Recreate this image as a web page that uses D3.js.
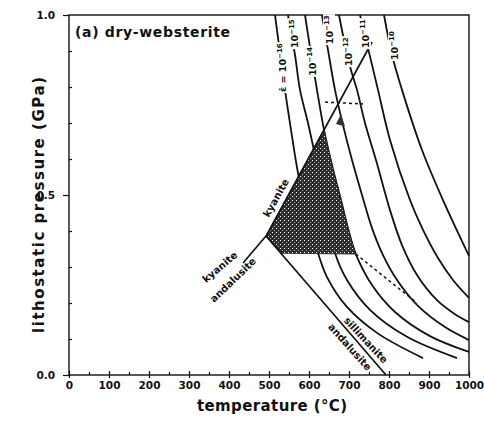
<!DOCTYPE html>
<html><head><meta charset="utf-8">
<script src="https://cdn.jsdelivr.net/npm/d3@7"></script>
<style>body{margin:0;background:#fff}</style>
</head><body>
<svg id="c" width="484" height="425"></svg>
<script>
// ---------- data ----------
const xTicks = [0,100,200,300,400,500,600,700,800,900,1000];
const xMinor = [50,150,250,350,450,550,650,750,850,950];
const yTicks = [0.0,0.5,1.0];
const yMinor = [0.1,0.2,0.3,0.4,0.6,0.7,0.8,0.9];
const strainExp = ["-16","-15","-14","-13","-12","-11","-10"];
// iso-strain-rate curves: [temperature °C, pressure GPa]
const curve16 = [[515,1.0],[540,0.792],[555,0.681],[572.5,0.561],[595,0.444],[622.5,0.339],[645,0.272],[695,0.189],[770,0.117],[885,0.047]];
const curve15 = [[547.5,1.0],[565,0.889],[577.5,0.792],[597.5,0.7],[617.5,0.597],[640,0.472],[665,0.339],[695,0.264],[752.5,0.181],[845,0.106],[970,0.047]];
const curve14 = [[590,1.0],[602.5,0.911],[620,0.792],[637.5,0.681],[657.5,0.583],[680,0.486],[700,0.397],[717,0.336],[757.5,0.25],[815,0.175],[902.5,0.108],[1000,0.064]];
const curve13 = [[632.5,1.0],[647.5,0.903],[665,0.792],[685,0.694],[707.5,0.597],[732.5,0.5],[757.5,0.408],[785,0.333],[820,0.264],[872.5,0.192],[940,0.133],[1000,0.097]];
const curve12 = [[675,1.0],[690,0.917],[705,0.847],[720,0.792],[740,0.7],[767.5,0.597],[802.5,0.458],[832.5,0.361],[870,0.278],[920,0.208],[965,0.169],[1000,0.147]];
const curve11 = [[727.5,1.0],[747.5,0.908],[772.5,0.792],[802.5,0.653],[852.5,0.486],[885,0.403],[922.5,0.325],[960,0.264],[1000,0.214]];
const curve10 = [[787.5,1.0],[807.5,0.889],[832.5,0.792],[882.5,0.625],[935,0.486],[1000,0.331]];
const curves = [curve16,curve15,curve14,curve13,curve12,curve11,curve10];
// Al2SiO5 phase boundaries
const kySil  = [[492.5,0.386],[757.5,0.925]];
const kyAnd  = [[492.5,0.386],[435,0.311]];
const andSil = [[492.5,0.386],[792.5,0.0]];
// shaded field
const shaded = [[637.5,0.681],[657.5,0.583],[680,0.486],[700,0.397],[717,0.336],[530,0.338],[492.5,0.386]];
const dashLow  = [[717,0.336],[870,0.2]];
const dashHigh = [[640,0.758],[735,0.753]];
const smallPatch = [[667.5,0.697],[680,0.725],[690,0.69]];

// ---------- layout ----------
const svg = d3.select("#c");
const FONT = "'DejaVu Sans', sans-serif";
const ink = "#111";
const x = d3.scaleLinear().domain([0,1000]).range([69,469]);
const y = d3.scaleLinear().domain([0,1]).range([375,15]);

const defs = svg.append("defs");
const pat = defs.append("pattern").attr("id","stip").attr("patternUnits","userSpaceOnUse")
  .attr("width",4).attr("height",4);
pat.append("rect").attr("width",4).attr("height",4).attr("fill","#2e2e2e");
pat.append("rect").attr("x",0).attr("y",0).attr("width",1).attr("height",1).attr("fill","#fff");
pat.append("rect").attr("x",2).attr("y",2).attr("width",1).attr("height",1).attr("fill","#aaa");

const line = d3.line().x(d=>x(d[0])).y(d=>y(d[1]));
const smooth = d3.line().x(d=>x(d[0])).y(d=>y(d[1])).curve(d3.curveCatmullRom.alpha(0.5));

// curves
svg.append("g").selectAll("path").data(curves).join("path")
  .attr("d", smooth).attr("fill","none").attr("stroke",ink).attr("stroke-width",1.8);

// shaded field
svg.append("path").attr("d", line(shaded)+"Z").attr("fill","url(#stip)").attr("stroke","#222").attr("stroke-width",0.8);
svg.append("path").attr("d", line(smallPatch)+"Z").attr("fill","#333");

// phase boundaries
[kySil,kyAnd,andSil].forEach(seg=>{
  svg.append("path").attr("d", line(seg)).attr("fill","none").attr("stroke",ink).attr("stroke-width",1.7);
});
[dashLow,dashHigh].forEach(seg=>{
  svg.append("path").attr("d", line(seg)).attr("fill","none").attr("stroke",ink)
    .attr("stroke-width",1.5).attr("stroke-dasharray","3,3");
});

// frame
svg.append("rect").attr("x",x(0)).attr("y",y(1)).attr("width",x(1000)-x(0)).attr("height",y(0)-y(1))
  .attr("fill","none").attr("stroke",ink).attr("stroke-width",1.4);

// axes
const gx = svg.append("g").attr("transform",`translate(0,${y(0)})`);
gx.call(d3.axisBottom(x).tickValues(xTicks).tickSize(3).tickPadding(4).tickFormat(d3.format("d")));
const gx2 = svg.append("g").attr("transform",`translate(0,${y(0)})`);
gx2.call(d3.axisBottom(x).tickValues(xTicks).tickSize(-4).tickFormat(""));
const gx3 = svg.append("g").attr("transform",`translate(0,${y(0)})`);
gx3.call(d3.axisBottom(x).tickValues(xMinor).tickSize(-3).tickFormat(""));
const gy = svg.append("g").attr("transform",`translate(${x(0)},0)`);
gy.call(d3.axisLeft(y).tickValues(yTicks).tickSize(6).tickPadding(8).tickFormat(d3.format(".1f")));
const gy2 = svg.append("g").attr("transform",`translate(${x(0)},0)`);
gy2.call(d3.axisLeft(y).tickValues(yMinor).tickSize(-3).tickFormat(""));
svg.selectAll(".domain").remove();
svg.selectAll(".tick line").attr("stroke",ink).attr("stroke-width",1.2);
svg.selectAll(".tick text").attr("font-family",FONT).attr("font-weight","bold")
  .attr("font-size",10.5).attr("fill",ink);

// axis titles
svg.append("text").attr("x",272).attr("y",411).attr("text-anchor","middle")
  .attr("font-family",FONT).attr("font-weight","bold").attr("font-size",15).attr("fill",ink)
  .attr("textLength",150).attr("lengthAdjust","spacing").text("temperature (°C)");
svg.append("text").attr("transform","translate(44,205) rotate(-90)").attr("text-anchor","middle")
  .attr("font-family",FONT).attr("font-weight","bold").attr("font-size",15).attr("fill",ink)
  .attr("textLength",256).attr("lengthAdjust","spacing").text("lithostatic pressure (GPa)");

// panel title
svg.append("text").attr("x",75).attr("y",37)
  .attr("font-family",FONT).attr("font-weight","bold").attr("font-size",14).attr("fill",ink)
  .attr("textLength",155).attr("lengthAdjust","spacing").text("(a) dry-websterite");

// strain-rate labels (anchor = bottom of rotated text, on baseline)
const labelAnchors = [[542.5,0.786],[572.5,0.908],[617.5,0.831],[660,0.919],[707.5,0.858],[750,0.908],[822.5,0.875]];
labelAnchors.forEach((a,i)=>{
  const g = svg.append("g").attr("transform",`translate(${x(a[0])},${y(a[1])}) rotate(-90)`);
  const t = g.append("text").attr("font-family",FONT).attr("font-weight","bold").attr("fill",ink);
  t.append("tspan").attr("font-size",9.5).text(i===0 ? "ε̇ = 10" : "10");
  t.append("tspan").attr("font-size",7).attr("dy",-4).text("−" + strainExp[i].slice(1));
  const bb = t.node().getBBox();
  g.insert("rect","text").attr("x",bb.x-1).attr("y",bb.y).attr("width",bb.width+2).attr("height",bb.height)
    .attr("fill","#fff");
});

// phase labels
function phaseLabel(txt, cx, cy, ang){
  svg.append("text").attr("transform",`translate(${cx},${cy}) rotate(${ang})`)
    .attr("text-anchor","middle").attr("dy","0.35em")
    .attr("font-family",FONT).attr("font-weight","bold").attr("font-size",10).attr("fill",ink).text(txt);
}
phaseLabel("kyanite", x(517.5), y(0.492), -61);
phaseLabel("kyanite", x(377), y(0.300), -40);
phaseLabel("andalusite", x(410), y(0.264), -44);
phaseLabel("sillimanite", x(742), y(0.097), 47);
phaseLabel("andalusite", x(702), y(0.078), 48);
</script>
</body></html>
